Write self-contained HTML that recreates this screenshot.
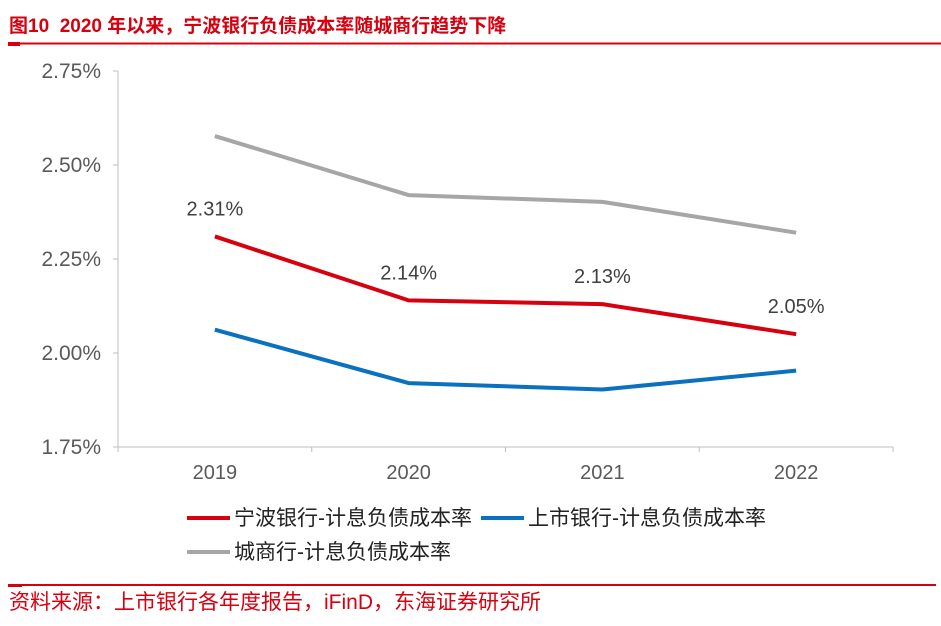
<!DOCTYPE html>
<html><head><meta charset="utf-8">
<style>
body{margin:0;width:941px;height:626px;background:#fff;overflow:hidden;font-family:"Liberation Sans","Noto Sans CJK SC",sans-serif;}
svg{position:absolute;left:0;top:0}
</style></head><body>
<svg width="941" height="626" id="c">
<text x="9" y="32" font-size="19" font-weight="bold" fill="#d7000f" xml:space="preserve">图10  2020 年以来，宁波银行负债成本率随城商行趋势下降</text>
<line x1="8" y1="43.5" x2="941" y2="43.5" stroke="#d7000f" stroke-width="2"/>
<rect x="8" y="42" width="12" height="4" fill="#d7000f"/>
<g id="plot"></g>
<g>
<line x1="187" y1="518" x2="230" y2="518" stroke="#d7000f" stroke-width="4"/>
<text x="234" y="525" font-size="21" fill="#222">宁波银行-计息负债成本率</text>
<line x1="481" y1="518" x2="524" y2="518" stroke="#0a70c0" stroke-width="4"/>
<text x="528" y="525" font-size="21" fill="#222">上市银行-计息负债成本率</text>
<line x1="187" y1="552" x2="230" y2="552" stroke="#a6a6a6" stroke-width="4"/>
<text x="234" y="559" font-size="21" fill="#222">城商行-计息负债成本率</text>
</g>
<line x1="8" y1="585" x2="936" y2="585" stroke="#d7000f" stroke-width="2"/>
<rect x="8" y="584" width="14" height="3" fill="#d7000f"/>
<text x="9" y="609" font-size="21" fill="#d7000f">资料来源：上市银行各年度报告，iFinD，东海证券研究所</text>
</svg>
<script>
const categories=["2019","2020","2021","2022"];
const ningbo=[2.31,2.14,2.13,2.05];
const listed=[2.062,1.92,1.903,1.953];
const city=[2.577,2.42,2.402,2.32];
const yTicks=[1.75,2.00,2.25,2.50,2.75];
const ningboLabels=["2.31%","2.14%","2.13%","2.05%"];
const NS="http://www.w3.org/2000/svg";
const g=document.getElementById("plot");
const x0=118,x1=893,yTop=71,yBot=447,yMin=1.75,yMax=2.75;
const step=(x1-x0)/categories.length;
function xs(i){return x0+step*(i+0.5);}
function ys(v){return yBot-(v-yMin)/(yMax-yMin)*(yBot-yTop);}
function mk(t,a){const e=document.createElementNS(NS,t);for(const k in a)e.setAttribute(k,a[k]);g.appendChild(e);return e;}
let ax=mk("line",{x1:x0,y1:yTop,x2:x0,y2:yBot,stroke:"#bfbfbf","stroke-width":1});


let bx=mk("line",{x1:x0,y1:yBot,x2:x1,y2:yBot,stroke:"#bfbfbf","stroke-width":1});


yTicks.forEach(v=>{
 let t=mk("line",{x1:x0-5,y1:ys(v),x2:x0,y2:ys(v),stroke:"#bfbfbf"});
 
 
 let l=mk("text",{x:x0-17,y:ys(v)+7,"font-size":21,fill:"#595959","text-anchor":"end"});
 l.textContent=v.toFixed(2)+"%";
 
 
});
for(let i=0;i<=categories.length;i++){
 let t=mk("line",{x1:x0+step*i,y1:yBot,x2:x0+step*i,y2:yBot+5,stroke:"#bfbfbf"});
 
 
}
categories.forEach((c,i)=>{
 let l=mk("text",{x:xs(i),y:yBot+32,"font-size":20,fill:"#595959","text-anchor":"middle"});
 l.textContent=c;
 
 
});
function series(arr,color,name){
 let p=mk("polyline",{points:arr.map((v,i)=>xs(i)+","+ys(v)).join(" "),fill:"none",stroke:color,"stroke-width":4,"stroke-linejoin":"round"});
 
 
}
series(city,"#a6a6a6","line-city");
series(listed,"#0a70c0","line-listed");
series(ningbo,"#d7000f","line-ningbo");
ningbo.forEach((v,i)=>{
 let l=mk("text",{x:xs(i),y:ys(v)-21,"font-size":20,fill:"#404040","text-anchor":"middle"});
 l.textContent=ningboLabels[i];
 
 
});
</script>
</body></html>
